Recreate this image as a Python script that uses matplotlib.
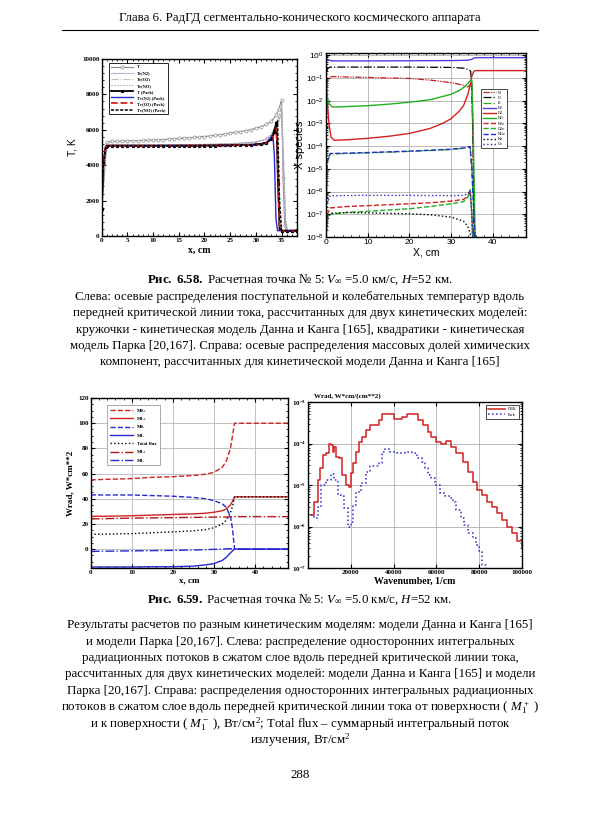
import math
import matplotlib
matplotlib.use("Agg")
import matplotlib.pyplot as plt
from matplotlib.ticker import MultipleLocator, FuncFormatter, NullFormatter

plt.rcParams['font.family'] = ['Liberation Serif', 'DejaVu Serif']
plt.rcParams['mathtext.fontset'] = 'custom'
plt.rcParams['mathtext.rm'] = 'Liberation Serif'
plt.rcParams['mathtext.it'] = 'Liberation Serif:italic'
plt.rcParams['mathtext.bf'] = 'Liberation Serif:bold'
plt.rcParams['mathtext.sf'] = 'Liberation Sans'

# ---------------- data: temperatures (top left) ----------------
x_dk = [0, 1, 2, 3, 4, 5, 6, 7, 8, 9, 10, 11, 12, 13, 14, 15, 16, 17, 18, 19, 20,
        21, 22, 23, 24, 25, 26, 27, 28, 29, 30, 31, 32, 33, 34, 34.5, 35, 35.3, 35.6, 36, 37, 38]
T_dk = [1500, 5300, 5340, 5350, 5360, 5370, 5380, 5390, 5400, 5410, 5430, 5440, 5450, 5470,
        5490, 5510, 5530, 5550, 5570, 5600, 5620, 5650, 5680, 5720, 5760, 5810, 5860, 5900,
        5950, 6010, 6090, 6180, 6300, 6470, 6850, 7200, 7700, 3300, 600, 300, 300, 300]

x_tv = [0, 0.3, 0.8, 1.5, 5, 10, 20, 25, 30, 32, 33, 34, 34.6, 35, 35.4, 35.8, 36.2, 38]
Tv_N2_dk = [1500, 4000, 5100, 5150, 5150, 5150, 5170, 5200, 5300, 5450, 5650, 6100, 6600, 6900, 3500, 500, 300, 300]
Tv_O2_dk = [1500, 4000, 5100, 5150, 5150, 5150, 5170, 5200, 5320, 5500, 5750, 6300, 6900, 7400, 4500, 800, 300, 300]
Tv_NO_dk = [1500, 4000, 5100, 5150, 5150, 5150, 5170, 5200, 5310, 5480, 5700, 6200, 6750, 7150, 4000, 650, 300, 300]

x_pk = [0, 0.3, 0.8, 1, 2, 3, 4, 5, 6, 7, 8, 9, 10, 11, 12, 13, 14, 15, 16, 17, 18, 19, 20,
        21, 22, 23, 24, 25, 26, 27, 28, 29, 30, 31, 32, 33, 33.5, 34, 34.3, 34.6, 35, 36, 37, 38]
T_pk = [1500, 4100, 5050, 5100, 5100, 5100, 5100, 5100, 5100, 5100, 5100, 5100, 5100, 5100,
        5100, 5100, 5100, 5100, 5100, 5100, 5100, 5100, 5110, 5110, 5110, 5120, 5120, 5130,
        5130, 5140, 5150, 5160, 5170, 5190, 5250, 5500, 5900, 6400, 3000, 400, 300, 300, 300, 300]

x_pv = [0, 0.3, 0.8, 1.5, 5, 10, 20, 25, 30, 32, 33, 33.3, 33.6, 33.9, 34.2, 34.6, 35, 38]
Tv_N2_pk = [1500, 4000, 5050, 5100, 5100, 5100, 5110, 5120, 5150, 5250, 5600, 5750, 4500, 1000, 300, 300, 300, 300]
Tv_O2_pk = [1500, 4000, 5050, 5100, 5100, 5100, 5110, 5120, 5160, 5280, 5400, 5600, 5850, 6100, 5000, 500, 300, 300]
Tv_NO_pk = [1500, 4000, 5050, 5100, 5100, 5100, 5110, 5120, 5160, 5280, 5450, 5650, 5900, 6200, 6500, 2000, 300, 300]

# ---------------- data: species (top right) ----------------
x_n2 = [0, 0.5, 1.5, 5, 10, 20, 30, 34, 35, 35.5, 36, 48]
X_N2 = [0.75, 0.62, 0.56, 0.56, 0.56, 0.57, 0.58, 0.6, 0.66, 0.75, 0.78, 0.78]
x_o2 = [0, 0.3, 0.7, 1.2, 2, 5, 10, 15, 20, 25, 28, 30, 32, 33, 34, 34.5, 35, 35.5, 36, 48]
X_O2 = [0.2, 1e-2, 1e-3, 2.5e-4, 1.8e-4, 1.9e-4, 2.2e-4, 2.7e-4, 3.6e-4, 6e-4, 1e-3, 1.6e-3,
        3.5e-3, 6e-3, 1.8e-2, 4e-2, 0.12, 0.2, 0.21, 0.21]
x_o = [0, 0.3, 1, 5, 10, 20, 30, 33, 34, 34.7, 35, 35.3, 35.6]
X_O = [0.05, 0.25, 0.3, 0.3, 0.3, 0.3, 0.29, 0.27, 0.24, 0.2, 0.05, 1e-4, 1e-9]
x_n = [0, 0.3, 1, 1.5, 5, 10, 20, 25, 30, 33, 34, 34.7, 35, 35.3, 35.6]
X_N = [0.01, 0.08, 0.11, 0.115, 0.11, 0.105, 0.095, 0.08, 0.062, 0.048, 0.04, 0.05, 0.03, 1e-4, 1e-9]
x_no = [0, 0.3, 0.8, 1.5, 3, 5, 10, 15, 20, 25, 30, 32, 33, 34, 34.6, 35, 35.3, 35.6, 35.9]
X_NO = [0.02, 1.5e-2, 7e-3, 5.3e-3, 5.3e-3, 5.5e-3, 6e-3, 7e-3, 8.5e-3, 1.1e-2, 1.9e-2, 2.8e-2,
        3.8e-2, 5.5e-2, 7.5e-2, 8e-2, 1e-3, 1e-6, 1e-9]
x_ex = [0, 0.3, 1, 5, 10, 20, 30, 33, 34, 34.6, 35, 35.5, 36]
X_E = [1e-7, 2e-5, 4.5e-5, 4.7e-5, 5e-5, 5.8e-5, 7e-5, 8e-5, 8.8e-5, 9e-5, 1e-5, 1e-7, 1e-9]
X_NOv = [1e-7, 2.1e-5, 4.7e-5, 4.9e-5, 5.2e-5, 6e-5, 7.3e-5, 8.3e-5, 9.2e-5, 9.4e-5, 1e-5, 1e-7, 1e-9]
x_v = [0, 0.3, 1, 5, 10, 20, 25, 30, 33, 34, 34.6, 35, 35.4]
X_Ov = [1e-8, 3e-7, 6.5e-7, 6.7e-7, 6.8e-7, 6.8e-7, 6.7e-7, 6.6e-7, 6.8e-7, 8e-7, 1.1e-6, 1e-7, 1e-9]
X_N2v = [1e-8, 1e-7, 1.9e-7, 2.2e-7, 2.4e-7, 2.9e-7, 3.2e-7, 3.8e-7, 4.5e-7, 6e-7, 1.1e-6, 1e-7, 1e-9]
X_O2v = [1e-8, 6e-8, 1.0e-7, 1.2e-7, 1.35e-7, 1.75e-7, 2.2e-7, 2.9e-7, 3.6e-7, 5.5e-7, 1.2e-6, 1e-7, 1e-9]
X_Nv = [1e-8, 6e-8, 1.1e-7, 1.2e-7, 1.15e-7, 1.05e-7, 9.5e-8, 7.5e-8, 5e-8, 3e-8, 1.5e-8, 1e-9, 1e-10]

# ---------------- data: fluxes (bottom left) ----------------
x_w = [0, 5, 10, 15, 20, 25, 28, 30, 32, 33, 34, 34.5, 35, 35.5, 48]
M0_p = [55, 55.5, 56, 57, 57.5, 58.5, 59.5, 61, 65, 70, 80, 90, 100, 100, 100]
M1_p = [26, 26.2, 26.5, 27, 27.5, 28, 28.5, 29.3, 30.5, 32, 35, 38, 41.5, 41.5, 41.5]
M0_m = [43, 43, 43, 42.5, 42, 41, 40, 38.5, 36, 33, 26, 16, 0, 0, 0]
M1_m = [-14.2, -14.2, -14.2, -14, -14, -13.5, -12.5, -11.5, -9, -6.5, -3, -1.5, 0, 0, 0]
Total = [11.8, 12, 12.3, 13, 13.7, 14.5, 15.5, 17, 20, 23, 29, 34, 41.5, 41.5, 41.5]
M1_p_pk = [24, 24.3, 24.6, 24.8, 25, 25.2, 25.3, 25.4, 25.5, 25.5, 25.6, 25.7, 25.8, 25.8, 25.8]
M1_m_pk = [-1.8, -1.6, -1.4, -1.2, -1, -0.7, -0.4, -0.2, 0, 0.2, 0.3, 0.2, 0, 0, 0]

# ---------------- data: spectra (bottom right) ----------------
wn_dbk = [1500, 3000, 4600, 5400, 6900, 8500, 10000, 10800, 11500, 12300, 13100, 14600, 16000,
          17700, 19200, 20000, 21100, 22300, 23800, 25400, 27000, 29200, 33000, 34600, 37700,
          40000, 43800, 46200, 48500, 51500, 53800, 56200, 57700, 60000, 62300, 64600, 66900,
          69200, 72300, 74600, 76900, 79200, 81500, 83800, 86200, 88500, 90800, 93100, 95400,
          97700, 100000]
W_dbk = [1.9e-6, 4.0e-6, 1.3e-5, 2.5e-5, 5.2e-5, 5.8e-5, 9.5e-5, 9.1e-5, 6.3e-5, 8.3e-5, 4.8e-5,
         4.4e-5, 1.7e-5, 1.0e-5, 9.1e-6, 1.9e-5, 3.3e-5, 6.3e-5, 1.1e-4, 1.45e-4, 2.1e-4,
         2.75e-4, 3.6e-4, 5.0e-4, 5.2e-4, 4.0e-4, 4.4e-4, 5.2e-4, 5.0e-4, 3.6e-4, 2.75e-4,
         1.9e-4, 1.45e-4, 1.1e-4, 9.5e-5, 1.15e-4, 8.3e-5, 5.8e-5, 3.6e-5, 2.1e-5, 1.2e-5,
         7.6e-6, 5.8e-6, 4.0e-6, 3.0e-6, 2.1e-6, 1.45e-6, 1.0e-6, 6.9e-7, 4.4e-7, 3.0e-7]
wn_pk = [1500, 3000, 4600, 6200, 8500, 10800, 12300, 13800, 15400, 16900, 18500, 20000, 20800,
         22300, 24600, 26900, 29200, 33000, 34600, 36100, 38500, 41500, 45400, 48500, 50800,
         53100, 54600, 56200, 57700, 59200, 61500, 63800, 66200, 67700, 69200, 71500, 73100,
         74600, 76900, 78500, 80000, 81500, 83100]
W_pk = [1.9e-6, 1.6e-6, 3.0e-6, 1.0e-5, 1.3e-5, 1.8e-5, 1.3e-5, 5.8e-6, 5.5e-6, 2.8e-6,
        1.0e-6, 1.3e-6, 3.3e-6, 6.9e-6, 1.1e-5, 2.1e-5, 2.8e-5, 3.3e-5, 6.3e-5, 7.2e-5,
        6.3e-5, 5.8e-5, 6.3e-5, 5.8e-5, 4.4e-5, 3.6e-5, 2.5e-5, 1.7e-5, 1.45e-5, 1.0e-5,
        6.3e-6, 5.5e-6, 4.8e-6, 4.0e-6, 2.5e-6, 1.6e-6, 1.1e-6, 6.9e-7, 5.2e-7, 3.6e-7,
        2.5e-7, 1.2e-7, 6e-8]

# ---------------- texts ----------------
header = "Глава 6. РадГД сегментально-конического космического аппарата"
cap1 = r"$\mathbf{Рис.\ 6.58.}$ Расчетная точка № 5: $V_\infty$ =5.0 км/с, $H$=52 км."
par1 = ["Слева: осевые распределения поступательной и колебательных температур вдоль",
        "передней критической линии тока, рассчитанных для двух кинетических моделей:",
        "кружочки - кинетическая модель Данна и Канга [165], квадратики - кинетическая",
        "модель Парка [20,167]. Справа: осевые распределения массовых долей химических",
        "компонент, рассчитанных для кинетической модели Данна и Канга [165]"]
cap2 = r"$\mathbf{Рис.\ 6.59.}$ Расчетная точка № 5: $V_\infty$ =5.0 км/с, $H$=52 км."
par2 = ["Результаты расчетов по разным кинетическим моделям: модели Данна и Канга [165]",
        "и модели Парка [20,167]. Слева: распределение односторонних интегральных",
        "радиационных потоков в сжатом слое вдоль передней критической линии тока,",
        "рассчитанных для двух кинетических моделей: модели Данна и Канга [165] и модели",
        "Парка [20,167]. Справа: распределения односторонних интегральных радиационных",
        r"потоков в сжатом слое вдоль передней критической линии тока от поверхности ( $M_1^+$ )",
        r"и к поверхности ( $M_1^-$ ), Вт/см$^2$; Total flux – суммарный интегральный поток",
        r"излучения, Вт/см$^2$"]

W, H = 600, 815
fig = plt.figure(figsize=(6, 8.15), dpi=100)


def box(l, t, r, b):
    return [l / W, 1 - b / H, (r - l) / W, (b - t) / H]


def fy(y):
    return 1 - y / H


def log_lab(style):
    return FuncFormatter(lambda v, p: r'$\math%s{10^{%d}}$' % (style, round(math.log10(v))))


red = '#d42020'
blue = '#2828d0'
green = '#20b020'
purple = '#5a3ce0'
fs = 9.3

# header
fig.text(0.5, fy(18), header, ha='center', va='center', fontsize=fs)
fig.add_artist(plt.Line2D([62 / W, 538 / W], [fy(30), fy(30)], color='black', lw=0.8))

# ---------------- top left ----------------
ax = fig.add_axes(box(101.7, 59, 297, 236))
ax.plot(x_dk, T_dk, color='#8a8a8a', lw=0.8, marker='o', ms=2.2, mfc='white', mew=0.5, label='T')
ax.plot(x_tv, Tv_N2_dk, color='#b8b0e0', lw=0.8, label='Tv(N2)')
ax.plot(x_tv, Tv_O2_dk, color='#c0c0c0', lw=0.8, ls='-.', label='Tv(O2)')
ax.plot(x_tv, Tv_NO_dk, color='#909090', lw=0.8, ls=':', label='Tv(NO)')
ax.plot(x_pk, T_pk, color='black', lw=1.3, marker='s', ms=1.3, label='T (Park)')
ax.plot(x_pv, Tv_N2_pk, color=blue, lw=1.0, label='Tv(N2) (Park)')
ax.plot(x_pv, Tv_O2_pk, color=red, lw=1.3, ls='--', label='Tv(O2) (Park)')
ax.plot(x_pv, Tv_NO_pk, color='black', lw=1.1, ls='--', dashes=(2, 1), label='Tv(NO) (Park)')
ax.set_xlim(0, 38)
ax.set_ylim(0, 10000)
ax.xaxis.set_major_locator(MultipleLocator(5))
ax.xaxis.set_minor_locator(MultipleLocator(1))
ax.yaxis.set_major_locator(MultipleLocator(2000))
ax.yaxis.set_minor_locator(MultipleLocator(400))
ax.tick_params(which='both', direction='in', labelsize=5, pad=1.5, top=True, right=True)
ax.tick_params(which='major', length=3)
ax.tick_params(which='minor', length=1.5)
for lb in ax.get_xticklabels() + ax.get_yticklabels():
    lb.set_fontweight('bold')
ax.set_xlabel('x, cm', fontsize=7, fontweight='bold', labelpad=2)
ax.set_ylabel('T, K', fontsize=7.5, family='Liberation Sans', labelpad=3)
for s in ax.spines.values():
    s.set_linewidth(1.0)
lg = ax.legend(loc='upper left', bbox_to_anchor=(0.025, 0.99), fontsize=3.2, handlelength=5,
               labelspacing=0.45, borderpad=0.5, fancybox=False, edgecolor='black',
               framealpha=1)
lg.get_frame().set_linewidth(0.6)
for t in lg.get_texts():
    t.set_fontweight('bold')

# ---------------- top right ----------------
ax = fig.add_axes(box(326, 53, 526, 237))
ax.plot(x_n, X_N, color='#c02020', lw=0.9, ls=(0, (5, 1, 1, 1, 1, 1)), label='N')
ax.plot(x_o, X_O, color='black', lw=0.9, ls='-.', label='O')
ax.plot(x_ex, X_E, color=green, lw=0.9, ls='-.', label='E-')
ax.plot(x_n2, X_N2, color=purple, lw=1.0, label='N2')
ax.plot(x_o2, X_O2, color=red, lw=1.0, label='O2')
ax.plot(x_no, X_NO, color=green, lw=1.0, label='NO')
ax.plot(x_v, X_N2v, color=red, lw=1.0, ls='--', label='N2v')
ax.plot(x_v, X_O2v, color=green, lw=1.0, ls='--', label='O2v')
ax.plot(x_ex, X_NOv, color=blue, lw=1.0, ls='--', label='NOv')
ax.plot(x_v, X_Nv, color='black', lw=1.0, ls=':', label='Nv')
ax.plot(x_v, X_Ov, color=blue, lw=1.0, ls=':', label='Ov')
ax.set_yscale('log')
ax.set_xlim(0, 48)
ax.set_ylim(1e-8, 1.25)
ax.set_yticks([10.0 ** k for k in range(-8, 1)])
ax.yaxis.set_major_formatter(log_lab('sf'))
ax.yaxis.set_minor_formatter(NullFormatter())
ax.xaxis.set_major_locator(MultipleLocator(10))
ax.xaxis.set_minor_locator(MultipleLocator(2))
ax.grid(True, which='major', color='#b0b0b0', lw=0.6)
ax.tick_params(which='both', direction='in', labelsize=6, pad=1.5, top=True, right=True)
ax.tick_params(which='major', length=3)
ax.tick_params(which='minor', length=1.5)
for lb in ax.get_xticklabels():
    lb.set_family('Liberation Sans')
ax.set_xlabel('X, cm', fontsize=7.5, family='Liberation Sans', labelpad=1)
ax.set_ylabel('X species', fontsize=8, family='Liberation Sans', labelpad=1)
for s in ax.spines.values():
    s.set_linewidth(1.0)
lg = ax.legend(loc='upper left', bbox_to_anchor=(0.765, 0.815), handlelength=3.5,
               labelspacing=0.3, borderpad=0.4, handletextpad=0.5, fancybox=False,
               edgecolor='black', framealpha=1, prop={'family': 'Liberation Sans', 'size': 2.8})
lg.get_frame().set_linewidth(0.5)

# captions 1
fig.text(0.5, fy(280), cap1, ha='center', va='center', fontsize=fs)
for i, line in enumerate(par1):
    fig.text(0.5, fy(297 + i * 16.3), line, ha='center', va='center', fontsize=fs)

# ---------------- bottom left ----------------
ax = fig.add_axes(box(90.7, 398, 288, 568))
ax.plot(x_w, M0_p, color=red, lw=1.0, ls='--', label='M0+')
ax.plot(x_w, M1_p, color=red, lw=1.0, label='M1+')
ax.plot(x_w, M0_m, color=blue, lw=1.0, ls='--', label='M0-')
ax.plot(x_w, M1_m, color=blue, lw=1.0, label='M1-')
ax.plot(x_w, Total, color='black', lw=1.0, ls=':', label='Total flux')
ax.plot(x_w, M1_p_pk, color='#b01818', lw=1.0, ls='-.', label='M1+')
ax.plot(x_w, M1_m_pk, color=blue, lw=1.0, ls='-.', label='M1-')
ax.set_xlim(0, 48)
ax.set_ylim(-15, 120)
ax.xaxis.set_major_locator(MultipleLocator(10))
ax.xaxis.set_minor_locator(MultipleLocator(2))
ax.yaxis.set_major_locator(MultipleLocator(20))
ax.yaxis.set_minor_locator(MultipleLocator(5))
ax.grid(True, which='major', color='#b8b8b8', lw=0.6)
ax.tick_params(which='both', direction='in', labelsize=5, pad=1.5, top=True, right=True)
ax.tick_params(which='major', length=3)
ax.tick_params(which='minor', length=1.5)
for lb in ax.get_xticklabels() + ax.get_yticklabels():
    lb.set_fontweight('bold')
ax.set_xlabel('x, cm', fontsize=6.5, fontweight='bold', labelpad=1)
ax.set_ylabel('Wrad, W*cm**2', fontsize=6.5, fontweight='bold', labelpad=3)
for s in ax.spines.values():
    s.set_linewidth(1.0)
lg = ax.legend(loc='upper left', bbox_to_anchor=(0.07, 0.97), fontsize=3.4, handlelength=5,
               labelspacing=0.85, borderpad=0.6, fancybox=False, edgecolor='#888888',
               framealpha=1)
lg.get_frame().set_linewidth(0.5)
for t in lg.get_texts():
    t.set_fontweight('bold')

# ---------------- bottom right ----------------
ax = fig.add_axes(box(308, 402, 522, 568))
ax.step(wn_dbk, W_dbk, where='post', color=red, lw=1.1, label='DBK')
ax.step(wn_pk, W_pk, where='post', color=blue, lw=1.1, ls=':', label='Park')
ax.set_yscale('log')
ax.set_xlim(0, 100000)
ax.set_ylim(1e-7, 1e-3)
ax.set_xticks([20000, 40000, 60000, 80000, 100000])
ax.set_yticks([1e-7, 1e-6, 1e-5, 1e-4, 1e-3])
ax.yaxis.set_major_formatter(log_lab('bf'))
ax.yaxis.set_minor_formatter(NullFormatter())
ax.grid(True, which='major', color='#b0b0b0', lw=0.6)
ax.tick_params(which='both', direction='in', labelsize=5, pad=1.5, top=True, right=True)
ax.tick_params(which='major', length=3)
ax.tick_params(which='minor', length=1.5)
for lb in ax.get_xticklabels():
    lb.set_fontweight('bold')
ax.set_xlabel('Wavenumber, 1/cm', fontsize=7, fontweight='bold', labelpad=1)
for s in ax.spines.values():
    s.set_linewidth(1.0)
lg = ax.legend(loc='upper right', bbox_to_anchor=(0.995, 0.995), fontsize=3, handlelength=4,
               labelspacing=0.4, borderpad=0.5, fancybox=False, edgecolor='black',
               framealpha=1)
lg.get_frame().set_linewidth(0.5)
fig.text(314 / W, fy(396), 'Wrad, W*cm/(cm**2)', ha='left', va='center', fontsize=5,
         fontweight='bold')

# captions 2
fig.text(0.5, fy(600), cap2, ha='center', va='center', fontsize=fs)
for i, line in enumerate(par2):
    fig.text(0.5, fy(625 + i * 16.5), line, ha='center', va='center', fontsize=fs)
fig.text(0.5, fy(775), '288', ha='center', va='center', fontsize=fs)

fig.savefig('out.png', dpi=100)
